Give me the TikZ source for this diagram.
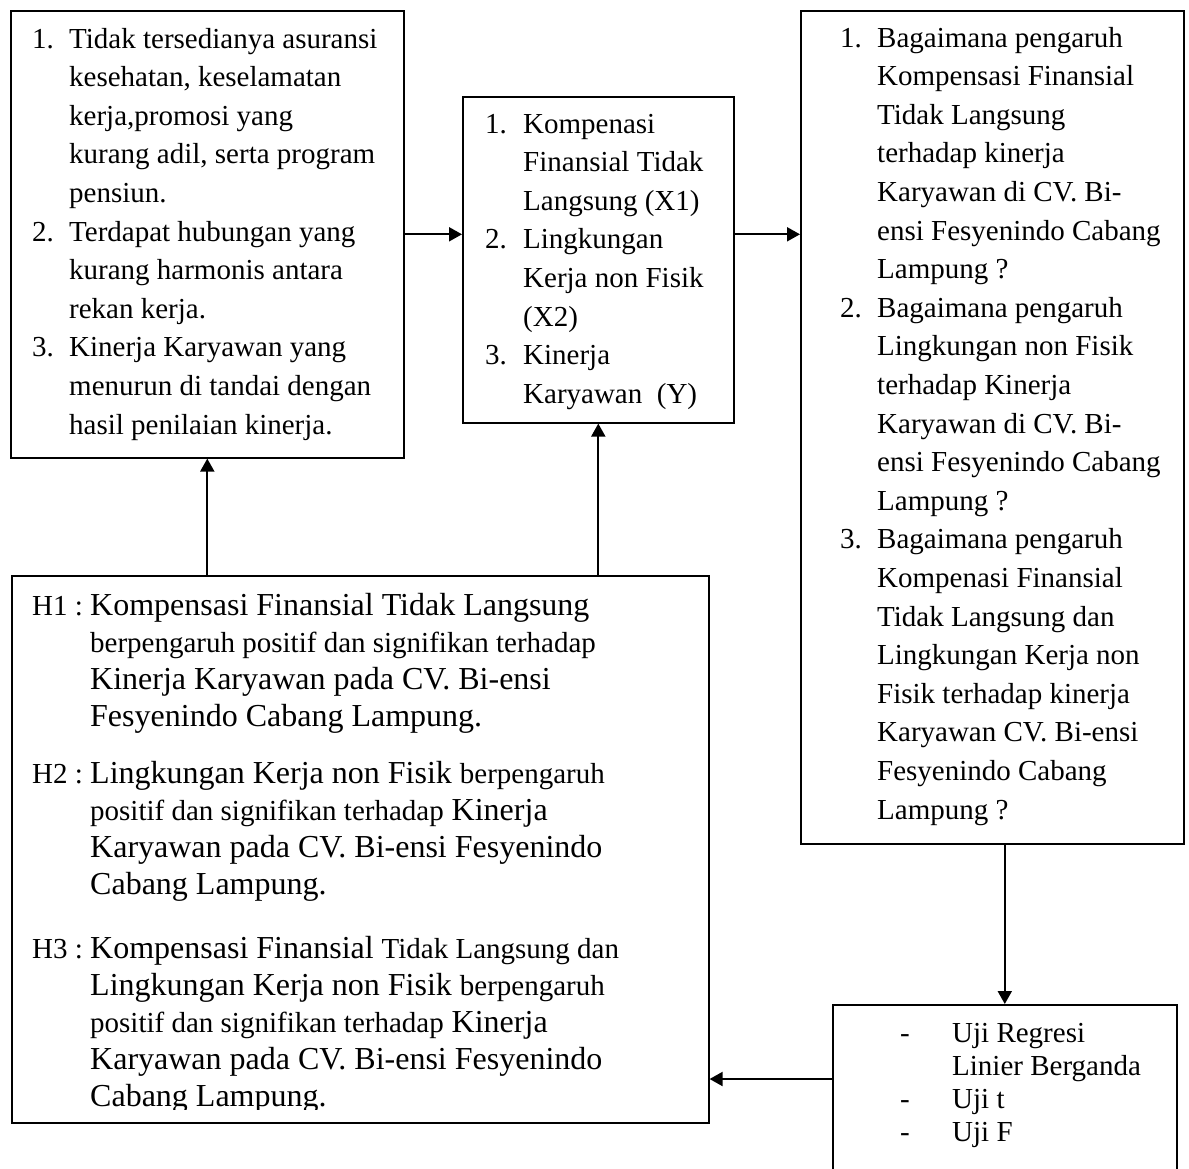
\documentclass[tikz,border=0pt]{standalone}
\usepackage{fontspec}
\setmainfont{Liberation Serif}
\usepackage{array}
\usetikzlibrary{arrows.meta,positioning}

\newcommand{\teksbiasa}{\fontsize{29}{38.6}\selectfont}
\newcommand{\teksbesar}{\fontsize{32}{37}\selectfont}
\newcommand{\tekskecil}{\fontsize{29}{37}\selectfont}
\newcommand{\teksuji}{\fontsize{29}{33}\selectfont}

\begin{document}
\begin{tikzpicture}[x=1pt,y=-1pt,
        kotak/.style={draw,line width=1.6pt,inner sep=0pt,anchor=north west},
        isi/.style={inner sep=0pt,anchor=base west},
        panah/.style={line width=2pt,-{Triangle[width=14pt,length=13pt]}}]
        % Kerangka pemikiran: masalah, variabel, rumusan, hipotesis, uji
        \useasboundingbox (0,0) rectangle (1189,1168);

        \node[kotak,minimum width=393pt,minimum height=447pt] (masalah) at (10,10) {};
        \node[kotak,minimum width=271pt,minimum height=326pt] (variabel) at (462,96) {};
        \node[kotak,minimum width=383pt,minimum height=833pt] (rumusan) at (800,10) {};
        \node[kotak,minimum width=697pt,minimum height=547pt] (hipotesis) at (11,575) {};
        \node[kotak,minimum width=344pt,minimum height=190pt] (uji) at (832,1004) {};

        \node[isi,font=\teksbiasa] (masalahisi) at (32,48) {\begin{tabular}[t]{@{}p{37pt}@{}l@{}}
            1. & Tidak tersedianya asuransi\\
               & kesehatan, keselamatan\\
               & kerja,promosi yang\\
               & kurang adil, serta program\\
               & pensiun.\\
            2. & Terdapat hubungan yang\\
               & kurang harmonis antara\\
               & rekan kerja.\\
            3. & Kinerja Karyawan yang\\
               & menurun di tandai dengan\\
               & hasil penilaian kinerja.
        \end{tabular}};

        \node[isi,font=\teksbiasa] (variabelisi) at (485,133) {\begin{tabular}[t]{@{}p{38pt}@{}l@{}}
            1. & Kompenasi\\
               & Finansial Tidak\\
               & Langsung (X1)\\
            2. & Lingkungan\\
               & Kerja non Fisik\\
               & (X2)\\
            3. & Kinerja\\
               & Karyawan \ (Y)
        \end{tabular}};

        \node[isi,font=\teksbiasa] (rumusanisi) at (840,47) {\begin{tabular}[t]{@{}p{37pt}@{}l@{}}
            1. & Bagaimana pengaruh\\
               & Kompensasi Finansial\\
               & Tidak Langsung\\
               & terhadap kinerja\\
               & Karyawan di CV. Bi-\\
               & ensi Fesyenindo Cabang\\
               & Lampung ?\\
            2. & Bagaimana pengaruh\\
               & Lingkungan non Fisik\\
               & terhadap Kinerja\\
               & Karyawan di CV. Bi-\\
               & ensi Fesyenindo Cabang\\
               & Lampung ?\\
            3. & Bagaimana pengaruh\\
               & Kompenasi Finansial\\
               & Tidak Langsung dan\\
               & Lingkungan Kerja non\\
               & Fisik terhadap kinerja\\
               & Karyawan CV. Bi-ensi\\
               & Fesyenindo Cabang\\
               & Lampung ?
        \end{tabular}};

        \begin{scope}
            \clip (11,575) rectangle (708,1109);
            \node[isi,font=\teksbesar] (h1) at (32,615) {\begin{tabular}[t]{@{}p{58pt}@{}l@{}}
                {\tekskecil H1 :} & Kompensasi Finansial Tidak Langsung\\
                     & {\tekskecil berpengaruh positif dan signifikan terhadap}\\
                     & Kinerja Karyawan pada CV. Bi-ensi\\
                     & Fesyenindo Cabang Lampung.
            \end{tabular}};
            \node[isi,font=\teksbesar] (h2) at (32,783) {\begin{tabular}[t]{@{}p{58pt}@{}l@{}}
                {\tekskecil H2 :} & Lingkungan Kerja non Fisik {\tekskecil berpengaruh}\\
                     & {\tekskecil positif dan signifikan terhadap} Kinerja\\
                     & Karyawan pada CV. Bi-ensi Fesyenindo\\
                     & Cabang Lampung.
            \end{tabular}};
            \node[isi,font=\teksbesar] (h3) at (32,958) {\begin{tabular}[t]{@{}p{58pt}@{}l@{}}
                {\tekskecil H3 :} & Kompensasi Finansial {\tekskecil Tidak Langsung dan}\\
                     & Lingkungan Kerja non Fisik {\tekskecil berpengaruh}\\
                     & {\tekskecil positif dan signifikan terhadap} Kinerja\\
                     & Karyawan pada CV. Bi-ensi Fesyenindo\\
                     & Cabang Lampung.
            \end{tabular}};
        \end{scope}

        \node[isi,font=\teksuji] (ujiisi) at (900,1042) {\begin{tabular}[t]{@{}p{52pt}@{}l@{}}
            - & Uji Regresi\\
              & Linier Berganda\\
            - & Uji t\\
            - & Uji F
        \end{tabular}};

        \coordinate (ujibarat) at (832,1079);

        \draw[panah] (masalah.east) -- (masalah.east -| variabel.west);
        \draw[panah] (masalah.east -| variabel.east) -- (masalah.east -| rumusan.west);
        \draw[panah] (masalah.south |- hipotesis.north) -- (masalah.south);
        \draw[panah] (variabel.south |- hipotesis.north) -- (variabel.south);
        \draw[panah] (rumusan.south -| uji.north) -- (uji.north);
        \draw[panah] (ujibarat) -- (ujibarat -| hipotesis.east);
\end{tikzpicture}
\end{document}
